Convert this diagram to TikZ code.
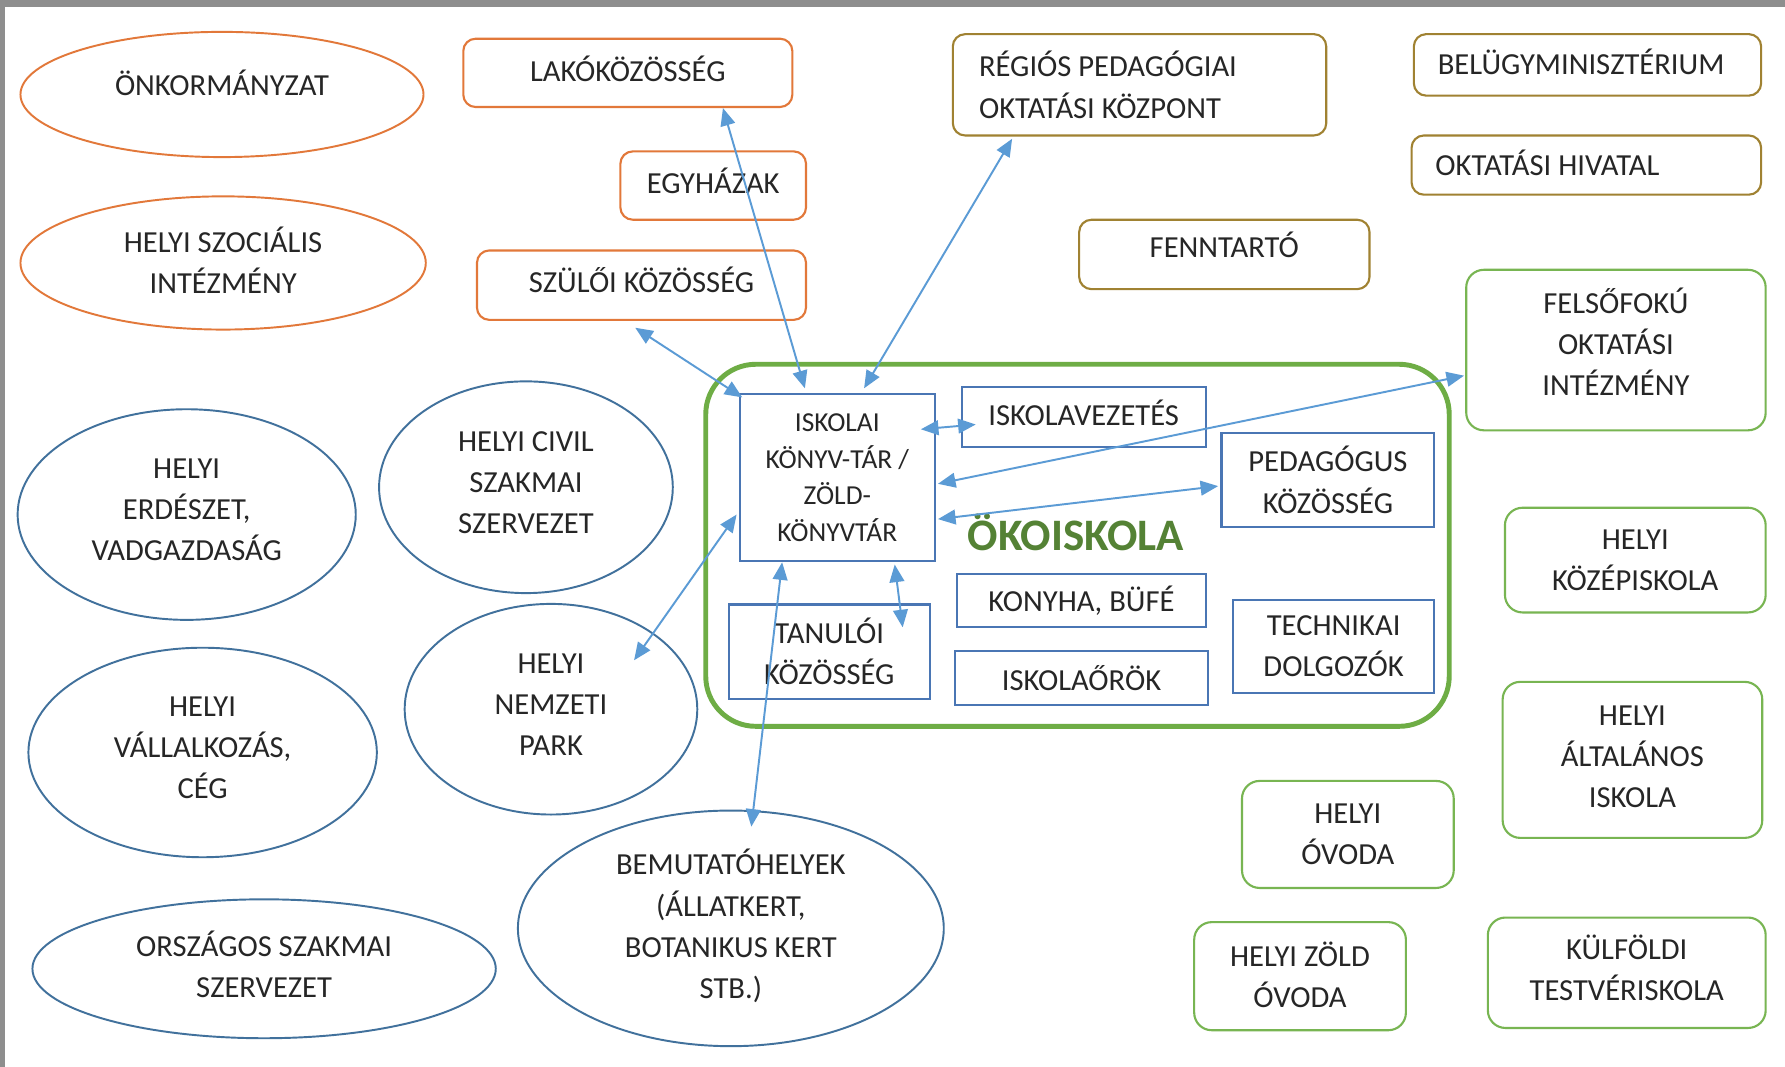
\documentclass[tikz,border=0pt]{standalone}
\usepackage{fontspec}
\setmainfont{Carlito}
\usetikzlibrary{shapes.geometric,calc,arrows.meta}
\definecolor{orng}{HTML}{E2783A}
\definecolor{gold}{HTML}{A08232}
\definecolor{grn}{HTML}{78B552}
\definecolor{ekog}{HTML}{6EAD45}
\definecolor{ekot}{HTML}{548235}
\definecolor{bell}{HTML}{41719C}
\definecolor{bbox}{HTML}{4A76B4}
\definecolor{arr}{HTML}{5B9BD5}
\definecolor{txt}{HTML}{262626}
\definecolor{band}{HTML}{8E8E8E}
\begin{document}
\begin{tikzpicture}[x=0.011384cm,y=-0.011384cm,
  every node/.style={font=\fontsize{8.7}{11.7}\selectfont, text=txt},
  sz/.style 2 args={minimum width=#1cm, minimum height=#2cm},
  obox/.style={draw=orng, line width=0.6pt, rounded corners=3.5pt, inner sep=0pt, align=center},
  gbox/.style={draw=gold, line width=0.6pt, rounded corners=3.5pt, inner sep=0pt, align=flush left},
  grbox/.style={draw=grn, line width=0.6pt, rounded corners=5pt, inner sep=0pt, align=center},
  ibox/.style={draw=bbox, line width=0.6pt, inner sep=0pt, align=center},
  oell/.style={ellipse, draw=orng, line width=0.55pt, inner sep=0pt, align=center, text depth=0.05cm},
  bel/.style={ellipse, draw=bell, line width=0.55pt, inner sep=0pt, align=center, text depth=0.09cm},
  link/.style={draw=arr, line width=0.55pt, {Triangle[length=5pt,width=4.2pt]}-{Triangle[length=5pt,width=4.2pt]}}]
\useasboundingbox (0,0) rectangle (1568,937);
\fill[white] (0,0) rectangle (1568,937);
\fill[band] (0,0) rectangle (1568,6);
\fill[band] (0,0) rectangle (4.5,937);

% orange group
\node[oell, sz={4.030}{1.252}, text depth=0pt] (onk) at (195,83) {\raisebox{0.24cm}{ÖNKORMÁNYZAT}};
\node[oell, sz={4.053}{1.332}] (szoc) at (196,231) {HELYI SZOCIÁLIS\\INTÉZMÉNY};
\node[obox, sz={3.290}{0.683}, text depth=0.09cm] (lako) at (551.5,64) {LAKÓKÖZÖSSÉG};
\node[obox, sz={1.856}{0.683}, text depth=0.09cm] (egy) at (626.5,163) {EGYHÁZAK};
\node[obox, sz={3.290}{0.694}, text depth=0.11cm] (szul) at (563.5,250.5) {SZÜLŐI KÖZÖSSÉG};

% gold group
\node[gbox, sz={3.734}{1.013}, text width=3.21cm] (regios) at (1001,74.5) {RÉGIÓS PEDAGÓGIAI\\OKTATÁSI KÖZPONT};
\node[gbox, sz={3.472}{0.615}, text width=2.994cm, text depth=0.07cm] (belugy) at (1394.5,57) {BELÜGYMINISZTÉRIUM};
\node[gbox, sz={3.495}{0.592}, text width=3.017cm, text depth=0.05cm] (okthiv) at (1393.5,145) {OKTATÁSI HIVATAL};
\node[gbox, sz={2.903}{0.694}, align=center] (fennt) at (1075.5,223.5) {\raisebox{0.19cm}{FENNTARTÓ}};

% green outer boxes
\node[grbox, sz={2.994}{1.605}, text depth=0.16cm] (felso) at (1419.5,307.5) {FELSŐFOKÚ\\OKTATÁSI\\INTÉZMÉNY};
\node[grbox, sz={2.607}{1.047}] (kozep) at (1436.5,492) {HELYI\\KÖZÉPISKOLA};
\node[grbox, sz={2.596}{1.560}, text depth=0.06cm] (altal) at (1434,667.5) {HELYI\\ÁLTALÁNOS\\ISKOLA};
\node[grbox, sz={2.117}{1.070}] (ovoda) at (1184,733) {HELYI\\ÓVODA};
\node[grbox, sz={2.117}{1.081}, text depth=0.03cm] (zold) at (1142,857.5) {HELYI ZÖLD\\ÓVODA};
\node[grbox, sz={2.778}{1.104}, text depth=0.10cm] (kulf) at (1429,854.5) {KÜLFÖLDI\\TESTVÉRISKOLA};

% blue ellipses
\node[bel, sz={3.381}{2.106}] (erd) at (164,452) {HELYI\\ERDÉSZET,\\VADGAZDASÁG};
\node[bel, sz={2.937}{2.117}] (civil) at (462,428) {HELYI CIVIL\\SZAKMAI\\SZERVEZET};
\node[bel, sz={3.484}{2.095}] (vall) at (178,661) {HELYI\\VÁLLALKOZÁS,\\CÉG};
\node[bel, sz={2.926}{2.106}] (park) at (484,623) {HELYI\\NEMZETI\\PARK};
\node[bel, sz={4.633}{1.389}] (orsz) at (232,851) {ORSZÁGOS SZAKMAI\\SZERVEZET};
\node[bel, sz={4.258}{2.356}] (bem) at (642,815.5) {BEMUTATÓHELYEK\\(ÁLLATKERT,\\BOTANIKUS KERT\\STB.)};

% ÖKOISKOLA
\node[draw=ekog, line width=1.4pt, rounded corners=0.5cm, inner sep=0pt, sz={7.434}{3.620}] (eko) at (946.5,479) {};
\node[text=ekot, font=\fontsize{12.8}{14}\selectfont\bfseries] (ekolbl) at (945,468) {ÖKOISKOLA};
\node[ibox, sz={1.947}{1.673}, font=\fontsize{7.8}{10.4}\selectfont] (kt) at (735.5,419.5) {ISKOLAI\\KÖNYV-TÁR /\\ZÖLD-\\KÖNYVTÁR};
\node[ibox, sz={2.436}{0.603}, text depth=0.09cm] (vez) at (952,366.5) {ISKOLAVEZETÉS};
\node[ibox, sz={2.129}{0.945}] (ped) at (1166.5,421.5) {PEDAGÓGUS\\KÖZÖSSÉG};
\node[ibox, sz={2.482}{0.535}, text depth=0.03cm] (kony) at (950,527.5) {KONYHA, BÜFÉ};
\node[ibox, sz={2.527}{0.535}] (orok) at (950,595.5) {ISKOLAŐRÖK};
\node[ibox, sz={2.015}{0.945}] (tan) at (728.5,572.5) {TANULÓI\\KÖZÖSSÉG};
\node[ibox, sz={2.015}{0.933}] (tech) at (1171.5,568) {TECHNIKAI\\DOLGOZÓK};

% connectors
\draw[link] ($(lako.south west)+(229,0)$) -- ($(kt.north west)+(58,-4)$);
\draw[link] ($(regios.south west)+(53,2)$) -- ($(kt.north west)+(110,-4)$);
\draw[link] ($(szul.south west)+(140,6)$) -- ($(kt.north west)+(3,4)$);
\draw[link] ($(kt.north east)+(-13,32)$) -- ($(vez.south west)+(13,-21)$);
\draw[link] ($(felso.west)+(-1,22.5)$) -- ($(kt.east)+(2,5.5)$);
\draw[link] ($(ped.west)+(-2,5.5)$) -- ($(kt.east)+(2,36.5)$);
\draw[link] ($(park.center)+(73,-43)$) -- ($(kt.west)+(-2,32.5)$);
\draw[link] ($(bem.north)+(18,15)$) -- ($(kt.south west)+(38,0)$);
\draw[link] ($(kt.south east)+(-36,2)$) -- ($(tan.north east)+(-25,21)$);
\end{tikzpicture}
\end{document}
